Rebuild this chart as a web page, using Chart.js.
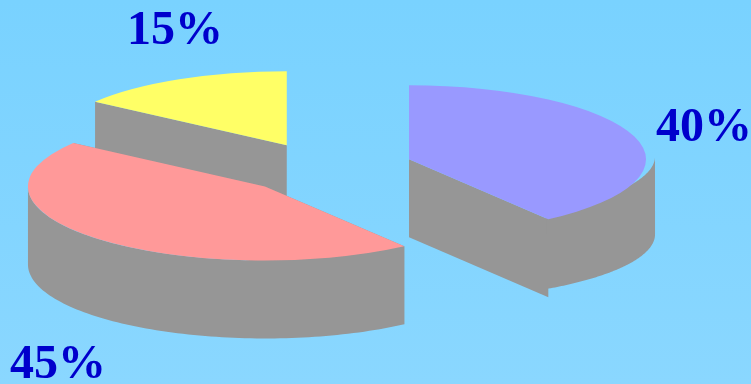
<!DOCTYPE html>
<html>
<head>
<meta charset="utf-8">
<style>
  html, body { margin: 0; padding: 0; width: 751px; height: 384px; overflow: hidden; }
  body { background: linear-gradient(180deg, #79d2ff 0%, #8ad7ff 100%); }
  #wrap { position: relative; width: 751px; height: 384px; }
  canvas { display: block; }
</style>
<script src="https://cdn.jsdelivr.net/npm/chart.js@4"></script>
</head>
<body>
<div id="wrap"><canvas id="pie" width="751" height="384"></canvas></div>
<script>
// Slices run clockwise starting at the yellow wedge.
const categories = ['15%', '40%', '45%'];
const shares = [15, 40, 45];
const sliceColors = ['#ffff66', '#9999ff', '#ff9999'];

const startDegrees = -54;
const pieRadius = 237;

// Tilted-pie projection: the circle is squashed vertically and extruded downward.
const tilt = 74 / 237;
const pieCentre = { x: 324, y: 168 };
const wallDepth = 78;
const wallColor = '#969696';
// How far each slice is pulled out along its bisector.
const explode = [82, 89.4, 83.5];
// Outer wall ellipse per slice, relative to its top face.
const wallShape = [
  { rx: 1, ry: 1, dy: 0 },
  { rx: 1.038, ry: 0.89, dy: -3 },
  { rx: 1, ry: 1, dy: 0 }
];

const labelFont = 'bold 48px "Liberation Serif"';
const labelColor = '#0000cc';
const labelAnchors = [
  { x: 127, y: 44 },
  { x: 656, y: 141 },
  { x: 10, y: 378 }
];

function chartCentre(chart) {
  const area = chart.chartArea;
  return { x: (area.left + area.right) / 2, y: (area.top + area.bottom) / 2 };
}

function drawWall(ctx, arc, origin, shape) {
  const c = {
    x: pieCentre.x + (arc.x - origin.x),
    y: pieCentre.y + (arc.y - origin.y) * tilt
  };
  const point = (a, rx, ry) => ({
    x: c.x + Math.cos(a) * arc.outerRadius * rx,
    y: c.y + Math.sin(a) * arc.outerRadius * tilt * ry
  });

  ctx.fillStyle = wallColor;

  // Flat cut faces along the two radial edges.
  [arc.startAngle, arc.endAngle].forEach((a) => {
    const p = point(a, 1, 1);
    ctx.beginPath();
    ctx.moveTo(c.x, c.y);
    ctx.lineTo(p.x, p.y);
    ctx.lineTo(p.x, p.y + wallDepth);
    ctx.lineTo(c.x, c.y + wallDepth);
    ctx.closePath();
    ctx.fill();
  });

  // Curved face: only the part of the rim turned toward the viewer.
  const from = Math.max(arc.startAngle, 0);
  const visibleEnd = Math.min(arc.endAngle, Math.PI);
  if (visibleEnd <= from) {
    return;
  }
  // A wider wall ellipse still has to end on the cut face's vertical edge;
  // the small overrun tucks the join under that face so no seam shows.
  const to = Math.acos(Math.cos(visibleEnd) / shape.rx) + 0.01;
  const steps = 90;
  const rim = [];
  for (let i = 0; i <= steps; i++) {
    rim.push(point(from + (to - from) * i / steps, shape.rx, shape.ry));
  }
  ctx.beginPath();
  rim.forEach((p, i) => {
    const y = p.y + shape.dy;
    if (i === 0) {
      ctx.moveTo(p.x, y);
    } else {
      ctx.lineTo(p.x, y);
    }
  });
  rim.slice().reverse().forEach((p) => ctx.lineTo(p.x, p.y + shape.dy + wallDepth));
  ctx.closePath();
  ctx.fill();
}

const tiltedPie = {
  id: 'tiltedPie',
  afterDatasetsUpdate(chart) {
    // Pull each slice outward along the bisector of its own angles.
    chart.getDatasetMeta(0).data.forEach((arc, i) => {
      const half = (arc.startAngle + arc.endAngle) / 2;
      arc.x += Math.cos(half) * explode[i];
      arc.y += Math.sin(half) * explode[i];
    });
  },
  beforeDatasetsDraw(chart) {
    const ctx = chart.ctx;
    const origin = chartCentre(chart);
    const arcs = chart.getDatasetMeta(0).data;
    arcs.forEach((arc, i) => drawWall(ctx, arc, origin, wallShape[i]));

    // The library's arcs are painted under this transform as the top faces.
    ctx.save();
    ctx.translate(pieCentre.x, pieCentre.y);
    ctx.scale(1, tilt);
    ctx.translate(-origin.x, -origin.y);
  },
  afterDatasetsDraw(chart) {
    chart.ctx.restore();
  },
  afterDraw(chart) {
    const ctx = chart.ctx;
    ctx.save();
    ctx.font = labelFont;
    ctx.fillStyle = labelColor;
    ctx.textAlign = 'left';
    ctx.textBaseline = 'alphabetic';
    chart.data.labels.forEach((text, i) => {
      ctx.fillText(text, labelAnchors[i].x, labelAnchors[i].y);
    });
    ctx.restore();
  }
};

new Chart(document.getElementById('pie'), {
  type: 'pie',
  data: {
    labels: categories,
    datasets: [{
      data: shares,
      backgroundColor: sliceColors,
      borderWidth: 0,
      clip: false,
      hoverOffset: 0
    }]
  },
  options: {
    responsive: false,
    animation: false,
    rotation: startDegrees,
    radius: pieRadius,
    layout: { padding: 0 },
    events: [],
    plugins: {
      legend: { display: false },
      tooltip: { enabled: false }
    }
  },
  plugins: [tiltedPie]
});
</script>
</body>
</html>
